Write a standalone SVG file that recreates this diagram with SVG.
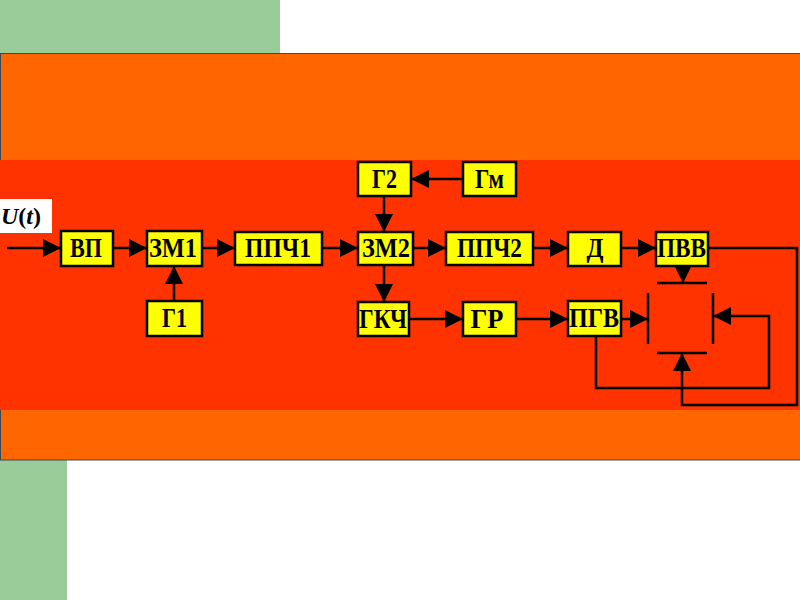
<svg xmlns="http://www.w3.org/2000/svg" width="800" height="600" viewBox="0 0 800 600">
<style>
.bx{fill:#ffff00;stroke:#000;stroke-width:2.5}
.t{font-family:"Liberation Serif",serif;font-weight:bold;font-size:27px;fill:#000;text-anchor:middle}
.c{fill:none;stroke:#000;stroke-width:2.5}
.ca{fill:none;stroke:#000;stroke-width:2.5;marker-end:url(#ah)}
</style>
<defs>
<marker id="ah" markerUnits="userSpaceOnUse" markerWidth="20" markerHeight="18" refX="18" refY="9" orient="auto">
<path d="M0,0 L18,9 L0,18 Z" fill="#000"/>
</marker>
</defs>
<rect x="0" y="0" width="800" height="600" fill="#fff"/>
<rect x="0" y="0" width="280" height="53" fill="#99cc99"/>
<rect x="0" y="460" width="67" height="140" fill="#99cc99"/>
<rect x="0.5" y="53.5" width="800" height="406.5" fill="#ff6600" stroke="#3a4a50" stroke-width="1"/>
<rect x="0" y="160" width="800" height="250" fill="#ff3300"/>

<g id="ut"><rect x="0" y="199" width="52" height="34" fill="#fff"/>
<text x="1" y="224" font-family="Liberation Serif,serif" font-weight="bold" font-size="24"><tspan font-style="italic">U</tspan>(<tspan font-style="italic">t</tspan>)</text></g>

<g id="connectors">
<line class="ca" x1="7" y1="248" x2="61" y2="248"/>
<line class="ca" x1="113" y1="248" x2="147" y2="248"/>
<line class="ca" x1="202" y1="248" x2="235" y2="248"/>
<line class="ca" x1="322" y1="248" x2="358" y2="248"/>
<line class="ca" x1="413" y1="248" x2="446" y2="248"/>
<line class="ca" x1="533" y1="248" x2="568" y2="248"/>
<line class="ca" x1="621" y1="248" x2="656" y2="248"/>
<line class="ca" x1="174" y1="301" x2="174" y2="266"/>
<line class="ca" x1="463" y1="179" x2="411" y2="179"/>
<line class="ca" x1="384" y1="196" x2="384" y2="232"/>
<line class="ca" x1="384" y1="265" x2="384" y2="302"/>
<line class="ca" x1="409" y1="319" x2="463" y2="319"/>
<line class="ca" x1="516" y1="319" x2="568" y2="319"/>
<line class="ca" x1="683" y1="266" x2="683" y2="283"/>
<line class="ca" x1="621" y1="319" x2="648" y2="319"/>
<polyline class="ca" points="708,248 797,248 797,405 682,405 682,353"/>
<polyline class="ca" points="596,336 596,388 769,388 769,316 713,316"/>
</g>

<g id="mixer">
<line class="c" x1="657" y1="283" x2="707" y2="283"/>
<line class="c" x1="657" y1="353" x2="707" y2="353"/>
<line class="c" x1="648" y1="293" x2="648" y2="344"/>
<line class="c" x1="713" y1="293" x2="713" y2="344"/>
</g>

<g id="vp"><rect class="bx" x="61" y="231" width="52" height="35"/><text class="t" x="86" y="257" textLength="32" lengthAdjust="spacingAndGlyphs">ВП</text></g>
<g id="zm1"><rect class="bx" x="147" y="231" width="55" height="35"/><text class="t" x="173" y="257" textLength="48" lengthAdjust="spacingAndGlyphs">ЗМ1</text></g>
<g id="g1"><rect class="bx" x="147" y="301" width="55" height="35"/><text class="t" x="174.5" y="327" textLength="25" lengthAdjust="spacingAndGlyphs">Г1</text></g>
<g id="ppch1"><rect class="bx" x="235" y="232" width="87" height="33"/><text class="t" x="278" y="257" textLength="66" lengthAdjust="spacingAndGlyphs">ППЧ1</text></g>
<g id="zm2"><rect class="bx" x="358" y="232" width="55" height="33"/><text class="t" x="386" y="257" textLength="48" lengthAdjust="spacingAndGlyphs">ЗМ2</text></g>
<g id="g2"><rect class="bx" x="358" y="162" width="53" height="34"/><text class="t" x="384.5" y="188" textLength="25" lengthAdjust="spacingAndGlyphs">Г2</text></g>
<g id="gm"><rect class="bx" x="463" y="162" width="53" height="34"/><text class="t" x="489.5" y="188" textLength="29" lengthAdjust="spacingAndGlyphs">Гм</text></g>
<g id="ppch2"><rect class="bx" x="446" y="232" width="87" height="33"/><text class="t" x="489.5" y="257" textLength="65" lengthAdjust="spacingAndGlyphs">ППЧ2</text></g>
<g id="d"><rect class="bx" x="568" y="232" width="53" height="34"/><text class="t" x="595" y="257" textLength="17" lengthAdjust="spacingAndGlyphs">Д</text></g>
<g id="pvv"><rect class="bx" x="656" y="232" width="52" height="34"/><text class="t" x="681.5" y="257" textLength="49" lengthAdjust="spacingAndGlyphs">ПВВ</text></g>
<g id="gkch"><rect class="bx" x="358" y="302" width="51" height="34"/><text class="t" x="383" y="328" textLength="48" lengthAdjust="spacingAndGlyphs">ГКЧ</text></g>
<g id="gr"><rect class="bx" x="463" y="302" width="53" height="34"/><text class="t" x="487" y="328" textLength="33" lengthAdjust="spacingAndGlyphs">ГР</text></g>
<g id="pgv"><rect class="bx" x="568" y="301" width="53" height="35"/><text class="t" x="594" y="327" textLength="50" lengthAdjust="spacingAndGlyphs">ПГВ</text></g>
</svg>
